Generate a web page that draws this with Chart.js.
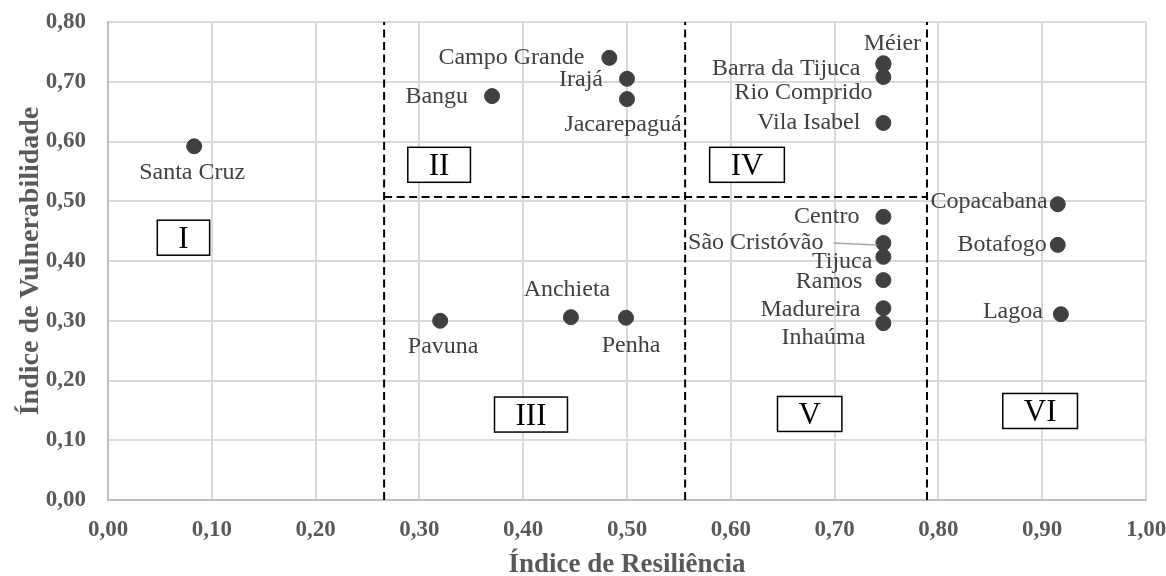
<!DOCTYPE html>
<html lang="pt">
<head>
<meta charset="UTF-8">
<title>Resiliência x Vulnerabilidade</title>
<script src="https://cdn.jsdelivr.net/npm/chart.js"></script>
<style>
  body { margin: 0; background: #fff; font-family: "Liberation Serif", "DejaVu Serif", serif; }
  .grafico { width: 1166px; height: 576px; }
</style>
</head>
<body>
<div class="grafico"><canvas id="grafico"></canvas></div>
<script>
// valores
const bairros = ['Santa Cruz', 'Bangu', 'Campo Grande', 'Irajá', 'Jacarepaguá', 'Pavuna', 'Anchieta', 'Penha',
  'Méier', 'Barra da Tijuca', 'Rio Comprido', 'Vila Isabel', 'Centro', 'São Cristóvão', 'Tijuca', 'Ramos',
  'Madureira', 'Inhaúma', 'Copacabana', 'Botafogo', 'Lagoa'];
const resiliencia = [0.083, 0.370, 0.483, 0.500, 0.500, 0.320, 0.446, 0.499,
  0.747, 0.747, 0.747, 0.747, 0.747, 0.747, 0.747, 0.747, 0.747, 0.747, 0.915, 0.915, 0.918];
const vulnerabilidade = [0.592, 0.676, 0.740, 0.705, 0.671, 0.300, 0.306, 0.305,
  0.731, 0.729, 0.708, 0.631, 0.474, 0.430, 0.407, 0.368, 0.321, 0.296, 0.495, 0.427, 0.311];

// limites das regiões (linhas tracejadas)
const limitesX = [0.266, 0.556, 0.789];
const limiteY = 0.507;

// rótulos das regiões
const regioes = ['I', 'II', 'III', 'IV', 'V', 'VI'];
const regiaoX = [0.0727, 0.319, 0.4075, 0.6156, 0.676, 0.898];
const regiaoY = [0.439, 0.561, 0.143, 0.561, 0.144, 0.149];

const ticksX = [0, 0.1, 0.2, 0.3, 0.4, 0.5, 0.6, 0.7, 0.8, 0.9, 1.0];
const ticksY = [0, 0.1, 0.2, 0.3, 0.4, 0.5, 0.6, 0.7, 0.8];

// deslocamento do texto em relação ao ponto (px) e alinhamento
const rotuloPos = [
  [-2, 26, 'center'], [-24, 1, 'right'], [-25, 0, 'right'], [-24, 1, 'right'], [-4, 26, 'center'],
  [3, 26, 'center'], [-4, -27, 'center'], [5, 28, 'center'],
  [9, -20, 'center'], [-23, 4, 'right'], [-11, 16, 'right'], [-23, 0, 'right'],
  [-24, 0, 'right'], [-60, 0, 'right'], [-11, 5, 'right'], [-21, 2, 'right'],
  [-23, 2, 'right'], [-18, 15, 'right'], [-10, -3, 'right'], [-11, 0, 'right'], [-18, -2, 'right']
];

const fonte = '"Liberation Serif", "DejaVu Serif", serif';
const virgula = v => v.toFixed(2).replace('.', ',');

const linhas = [];
limitesX.forEach(x => linhas.push([{x: x, y: ticksY[0]}, {x: x, y: ticksY[ticksY.length - 1]}]));
linhas.push([{x: limitesX[0], y: limiteY}, {x: limitesX[2], y: limiteY}]);

const datasets = [{
  type: 'scatter',
  data: bairros.map((b, i) => ({x: resiliencia[i], y: vulnerabilidade[i]})),
  backgroundColor: '#404040',
  borderColor: '#404040',
  pointRadius: 7.5,
  pointHoverRadius: 7.5,
  order: 0
}];
linhas.forEach(l => datasets.push({
  type: 'line',
  data: l,
  borderColor: '#000',
  borderWidth: 2,
  borderDash: [8, 4.5],
  pointRadius: 0,
  fill: false,
  order: 1
}));

const rotulos = {
  id: 'rotulos',
  afterDatasetsDraw(chart) {
    const ctx = chart.ctx;
    const sx = chart.scales.x, sy = chart.scales.y;
    ctx.save();
    // nomes dos bairros
    ctx.font = '24px ' + fonte;
    ctx.fillStyle = '#404040';
    ctx.textBaseline = 'middle';
    bairros.forEach((b, i) => {
      const px = sx.getPixelForValue(resiliencia[i]);
      const py = sy.getPixelForValue(vulnerabilidade[i]);
      const [dx, dy, al] = rotuloPos[i];
      ctx.textAlign = al;
      ctx.fillText(b, px + dx, py + dy);
      if (b === 'São Cristóvão') {
        ctx.strokeStyle = '#a6a6a6';
        ctx.lineWidth = 1.5;
        ctx.beginPath();
        ctx.moveTo(px + dx + 10, py);
        ctx.lineTo(px - 6, py + 2);
        ctx.stroke();
      }
    });
    // caixas das regiões
    ctx.font = '31px ' + fonte;
    ctx.textAlign = 'center';
    regioes.forEach((r, i) => {
      const cx = sx.getPixelForValue(regiaoX[i]);
      const cy = sy.getPixelForValue(regiaoY[i]);
      const w = ctx.measureText(r).width + 42;
      const h = 35;
      ctx.fillStyle = '#fff';
      ctx.fillRect(cx - w / 2, cy - h / 2, w, h);
      ctx.strokeStyle = '#000';
      ctx.lineWidth = 1.5;
      ctx.strokeRect(cx - w / 2, cy - h / 2, w, h);
      ctx.fillStyle = '#000';
      ctx.fillText(r, cx, cy + 2);
    });
    ctx.restore();
  }
};

function desenhar() {
  new Chart(document.getElementById('grafico'), {
    type: 'scatter',
    data: {datasets: datasets},
    options: {
      responsive: true,
      maintainAspectRatio: false,
      animation: false,
      layout: {padding: {top: 22, right: 20, left: 0, bottom: 0}},
      plugins: {legend: {display: false}, tooltip: {enabled: false}},
      scales: {
        x: {
          type: 'linear',
          min: ticksX[0], max: ticksX[ticksX.length - 1],
          afterBuildTicks: s => { s.ticks = ticksX.map(v => ({value: v})); },
          afterFit: s => { s.height = 76; s.paddingLeft = 0; s.paddingRight = 0; },
          grid: {color: '#d9d9d9', lineWidth: 2, drawTicks: false},
          border: {color: '#bfbfbf', width: 2},
          ticks: {
            padding: 16, color: '#595959',
            font: {family: fonte, size: 23, weight: 'bold'},
            callback: v => virgula(v)
          },
          title: {
            display: true, text: 'Índice de Resiliência', color: '#595959',
            font: {family: fonte, size: 27, weight: 'bold', lineHeight: 0.8}, padding: {top: 0, bottom: 0}
          }
        },
        y: {
          type: 'linear',
          min: ticksY[0], max: ticksY[ticksY.length - 1],
          afterBuildTicks: s => { s.ticks = ticksY.map(v => ({value: v})); },
          afterFit: s => { s.width = 108; s.paddingTop = 0; s.paddingBottom = 0; },
          grid: {color: '#d9d9d9', lineWidth: 2, drawTicks: false},
          border: {color: '#bfbfbf', width: 2},
          ticks: {
            padding: 22, color: '#595959',
            font: {family: fonte, size: 23, weight: 'bold'},
            callback: v => virgula(v)
          },
          title: {
            display: true, text: 'Índice de Vulnerabilidade', color: '#595959',
            font: {family: fonte, size: 28, weight: 'bold'}, padding: {top: 14, bottom: 0}
          }
        }
      }
    },
    plugins: [rotulos]
  });
}

Promise.all([
  document.fonts.load('24px "Liberation Serif"'),
  document.fonts.load('bold 23px "Liberation Serif"')
]).then(desenhar, desenhar);
</script>
</body>
</html>
